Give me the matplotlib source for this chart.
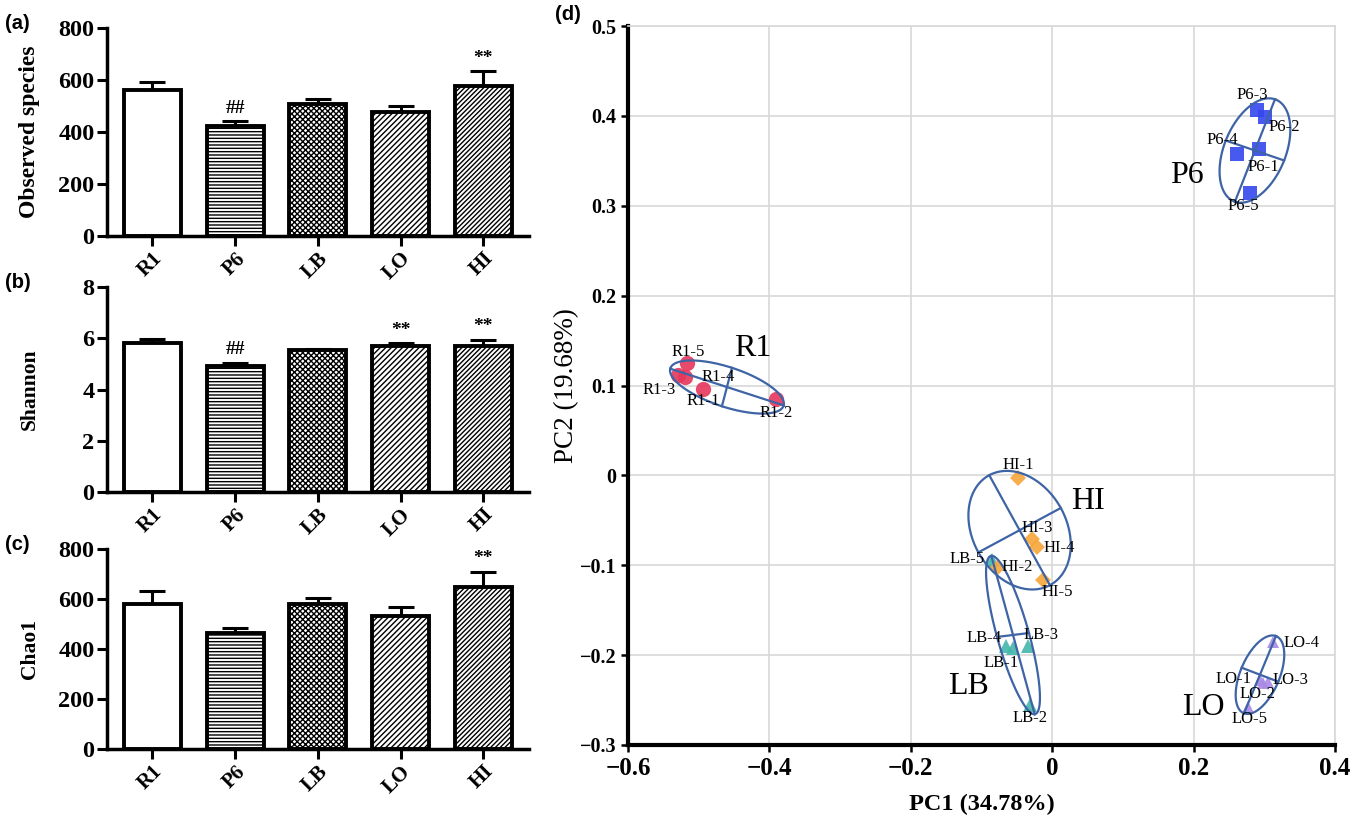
import numpy as np
import matplotlib.pyplot as plt

plt.rcParams['font.family'] = ['Liberation Serif', 'DejaVu Serif']
plt.rcParams['hatch.linewidth'] = 1.0

# ---- alpha diversity (a-c) ----
groups = ["R1", "P6", "LB", "LO", "HI"]

observed = [560, 423, 507, 478, 578]
observed_err = [34, 20, 21, 22, 55]
observed_marks = ["", "##", "", "", "**"]

shannon = [5.81, 4.92, 5.53, 5.70, 5.70]
shannon_err = [0.15, 0.13, 0.07, 0.10, 0.25]
shannon_marks = ["", "##", "", "**", "**"]

chao1 = [580, 463, 580, 533, 648]
chao1_err = [53, 20, 23, 34, 62]
chao1_marks = ["", "", "", "", "**"]

hatches = ["", "-----", "xxxxxx", "//////", "///////"]

# ---- PCoA (d) ----
R1_x = [-0.494, -0.391, -0.529, -0.519, -0.517]
R1_y = [0.096, 0.0846, 0.1117, 0.109, 0.1247]
P6_x = [0.292, 0.301, 0.289, 0.262, 0.280]
P6_y = [0.363, 0.399, 0.4065, 0.358, 0.314]
LB_x = [-0.0559, -0.0314, -0.0338, -0.0653, -0.0856]
LB_y = [-0.1925, -0.2555, -0.190, -0.190, -0.0942]
LO_x = [0.294, 0.2986, 0.3057, 0.3128, 0.2774]
LO_y = [-0.2277, -0.2314, -0.2296, -0.185, -0.258]
HI_x = [-0.048, -0.0785, -0.029, -0.022, -0.0126]
HI_y = [-0.0033, -0.1034, -0.0712, -0.0793, -0.1164]

# ellipse: centre, semi-axis a, semi-axis b (data units)
ell_R1 = ((-0.460, 0.0983), (0.0802, -0.0204), (0.0071, 0.0214))
ell_P6 = ((0.2868, 0.3615), (0.0283, 0.057), (0.0413, -0.0111))
ell_LB = ((-0.0554, -0.1776), (0.0307, -0.0881), (0.0226, 0.0022))
ell_LO = ((0.2939, -0.2218), (0.0226, 0.043), (0.0259, -0.0078))
ell_HI = ((-0.0461, -0.061), (0.0429, -0.0612), (0.0583, 0.0247))

name_pos = {"R1": (-0.423, 0.1414), "P6": (0.19, 0.334), "LB": (-0.1187, -0.235),
            "LO": (0.2137, -0.258), "HI": (0.051, -0.0293)}

# label offsets (points) for sample names 1..5
off_R1 = [(0, -8.5), (0, -10), (-14, -11), (24, 0), (1, 8)]
off_P6 = [(3.5, -12.5), (14, -7), (-3, 11), (-11, 9.5), (-5, -9.5)]
off_LB = [(-8, -10.5), (0, -9.5), (9, 8), (-16, 6), (-18, 1)]
off_LO = [(-19, 1), (-4, -8), (16, 1), (20, -1), (0.7, -8.5)]
off_HI = [(0, 9.5), (15, 1), (4, 8), (16, -1), (10, -9)]

fig = plt.figure(figsize=(13.56, 8.24), dpi=100)

bar_axes = [
    ([0.0789, 0.7136, 0.311, 0.2524], observed, observed_err, observed_marks,
     "Observed species", 800, "(a)", 17),
    ([0.0789, 0.4029, 0.311, 0.2488], shannon, shannon_err, shannon_marks,
     "Shannon", 8, "(b)", 15.5),
    ([0.0789, 0.0910, 0.311, 0.2427], chao1, chao1_err, chao1_marks,
     "Chao1", 800, "(c)", 15.5),
]

xpos = np.arange(len(groups))
for rect, vals, errs, marks, ylab, ymax, tag, lab_size in bar_axes:
    ax = fig.add_axes(rect)
    ax.bar(xpos, vals, width=0.69, color="white", edgecolor="black",
           linewidth=2.8, hatch=hatches, zorder=2)
    ax.errorbar(xpos, vals, yerr=[np.zeros(len(vals)), errs], fmt="none",
                ecolor="black", elinewidth=2.2, capsize=9.5, capthick=2.2, zorder=1)
    for x, v, e, m in zip(xpos, vals, errs, marks):
        if m:
            ax.annotate(m, (x, v + e), xytext=(0, 3), textcoords="offset points",
                        ha="center", va="bottom", fontsize=14, fontweight="bold")
    ax.set_xlim(-0.55, 4.55)
    ax.set_ylim(0, ymax)
    ax.set_yticks(np.linspace(0, ymax, 5))
    ax.set_xticks(xpos)
    ax.set_xticklabels(groups, rotation=45, ha="right", rotation_mode="anchor",
                       fontsize=15, fontweight="bold")
    for lab in ax.get_yticklabels():
        lab.set_fontsize(17.5)
        lab.set_fontweight("bold")
    ax.set_ylabel(ylab, fontsize=lab_size, fontweight="bold")
    ax.yaxis.set_label_coords(-0.16, 0.5)
    for s in ["top", "right"]:
        ax.spines[s].set_visible(False)
    for s in ["left", "bottom"]:
        ax.spines[s].set_linewidth(2.5)
    ax.tick_params(width=2.2, length=7, pad=2)
    fig.text(0.004, rect[1] + rect[3] + 0.005, tag, fontsize=14.5, fontweight="bold",
             family="Liberation Sans", va="center")

# ---- PCoA panel ----
ax = fig.add_axes([0.4631, 0.0959, 0.5214, 0.8725])
ax.set_xlim(-0.6, 0.4)
ax.set_ylim(-0.3, 0.5)
ax.set_xticks(np.arange(-0.6, 0.41, 0.2))
ax.set_yticks(np.arange(-0.3, 0.51, 0.1))
ax.set_xticklabels(["\u22120.6", "\u22120.4", "\u22120.2", "0", "0.2", "0.4"])
ax.set_yticklabels(["\u22120.3", "\u22120.2", "\u22120.1", "0", "0.1", "0.2",
                    "0.3", "0.4", "0.5"])
ax.grid(True, color="#d8d8d8", linewidth=1.2, zorder=0)
ax.set_axisbelow(True)
for s in ["top", "right"]:
    ax.spines[s].set_color("#d8d8d8")
    ax.spines[s].set_linewidth(1.2)
for s in ["left", "bottom"]:
    ax.spines[s].set_linewidth(3)
ax.tick_params(width=1.8, length=5)
ax.tick_params(axis="x", labelsize=18)
ax.tick_params(axis="y", labelsize=14.5)
for lab in ax.get_xticklabels() + ax.get_yticklabels():
    lab.set_fontweight("bold")
ax.set_xlabel("PC1 (34.78%)", fontsize=17.5, fontweight="bold", labelpad=10)
ax.set_ylabel("PC2 (19.68%)", fontsize=19.5, labelpad=0)
fig.text(0.409, 0.982, "(d)", fontsize=14.5, fontweight="bold",
         family="Liberation Sans", va="center")

pca = [
    ("R1", R1_x, R1_y, ell_R1, off_R1, "o", "#e6365b", 11),
    ("P6", P6_x, P6_y, ell_P6, off_P6, "s", "#3447ee", 10),
    ("LB", LB_x, LB_y, ell_LB, off_LB, "^", "#43b6aa", 10.5),
    ("LO", LO_x, LO_y, ell_LO, off_LO, "^", "#a98ae6", 9),
    ("HI", HI_x, HI_y, ell_HI, off_HI, "D", "#f7a53a", 8.5),
]
ell_color = "#3e64a6"
t = np.linspace(0, 2 * np.pi, 300)
for name, xs, ys, ell, offs, mk, col, ms in pca:
    (cx, cy), (axx, axy), (bxx, bxy) = ell
    ax.plot(cx + axx * np.cos(t) + bxx * np.sin(t),
            cy + axy * np.cos(t) + bxy * np.sin(t), color=ell_color, lw=1.6, zorder=4)
    ax.plot([cx - axx, cx + axx], [cy - axy, cy + axy], color=ell_color, lw=1.6, zorder=4)
    ax.plot([cx - bxx, cx + bxx], [cy - bxy, cy + bxy], color=ell_color, lw=1.6, zorder=4)
    ax.plot(xs, ys, linestyle="none", marker=mk, markersize=ms, color=col,
            markeredgewidth=0, alpha=0.9, zorder=3)
    for i, (x, y, o) in enumerate(zip(xs, ys, offs)):
        ax.annotate("%s-%d" % (name, i + 1), (x, y), xytext=o, textcoords="offset points",
                    ha="center", va="center", fontsize=12, zorder=5)
    ax.text(name_pos[name][0], name_pos[name][1], name, fontsize=23,
            ha="center", va="center", zorder=5)

fig.savefig("out.png", dpi=100)
